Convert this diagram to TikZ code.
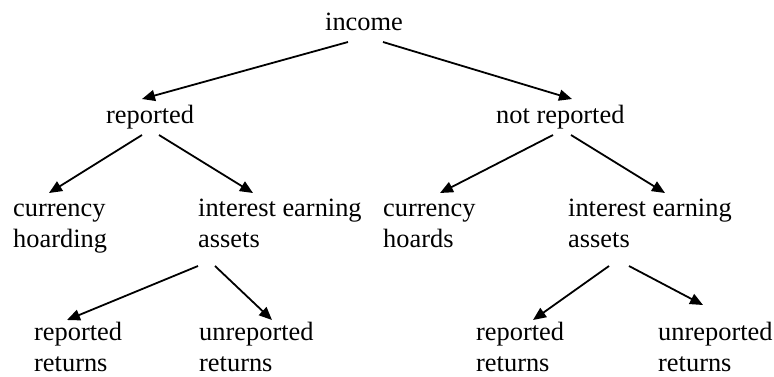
\documentclass[tikz,border=0pt]{standalone}
\usepackage{fontspec}
\setmainfont{Liberation Serif}
\usetikzlibrary{arrows.meta}
\begin{document}
\begin{tikzpicture}[x=1pt,y=-1pt,
  lbl/.style={anchor=base west,inner sep=0pt,align=left,font=\fontsize{26.4}{31}\selectfont},
  arr/.style={line width=1.8pt,-{Triangle[length=13pt,width=11pt]}}]
\useasboundingbox (0,0) rectangle (774,376);
% single-line nodes: base = baseline; two-line nodes: base = baseline of last line
\node[lbl] (inc) at (325,30) {income};
\node[lbl] (rep) at (106,123) {reported};
\node[lbl] (nrep) at (496,123) {not reported};
\node[lbl] (cur1) at (13,247) {currency\\hoarding};
\node[lbl] (int1) at (198,247) {interest earning\\assets};
\node[lbl] (cur2) at (383,247) {currency\\hoards};
\node[lbl] (int2) at (568,247) {interest earning\\assets};
\node[lbl] (rr1) at (34,371) {reported\\returns};
\node[lbl] (ur1) at (199,371) {unreported\\returns};
\node[lbl] (rr2) at (476,371) {reported\\returns};
\node[lbl] (ur2) at (658,371) {unreported\\returns};
\draw[arr] ([shift={(23,12)}]inc.base west) -- ([shift={(36,-24)}]rep.base west);
\draw[arr] ([shift={(58,12)}]inc.base west) -- ([shift={(76,-24)}]nrep.base west);
\draw[arr] ([shift={(36,12)}]rep.base west) -- ([shift={(36,-54)}]cur1.base west);
\draw[arr] ([shift={(53,12)}]rep.base west) -- ([shift={(55,-54)}]int1.base west);
\draw[arr] ([shift={(57,12)}]nrep.base west) -- ([shift={(57,-54)}]cur2.base west);
\draw[arr] ([shift={(75,12)}]nrep.base west) -- ([shift={(97,-54)}]int2.base west);
\draw[arr] ([shift={(0,19)}]int1.base west) -- ([shift={(33,-51)}]rr1.base west);
\draw[arr] ([shift={(17,19)}]int1.base west) -- ([shift={(73,-51)}]ur1.base west);
\draw[arr] ([shift={(41,19)}]int2.base west) -- ([shift={(57,-51)}]rr2.base west);
\draw[arr] ([shift={(61,19)}]int2.base west) -- ([shift={(45,-66)}]ur2.base west);
\end{tikzpicture}
\end{document}
